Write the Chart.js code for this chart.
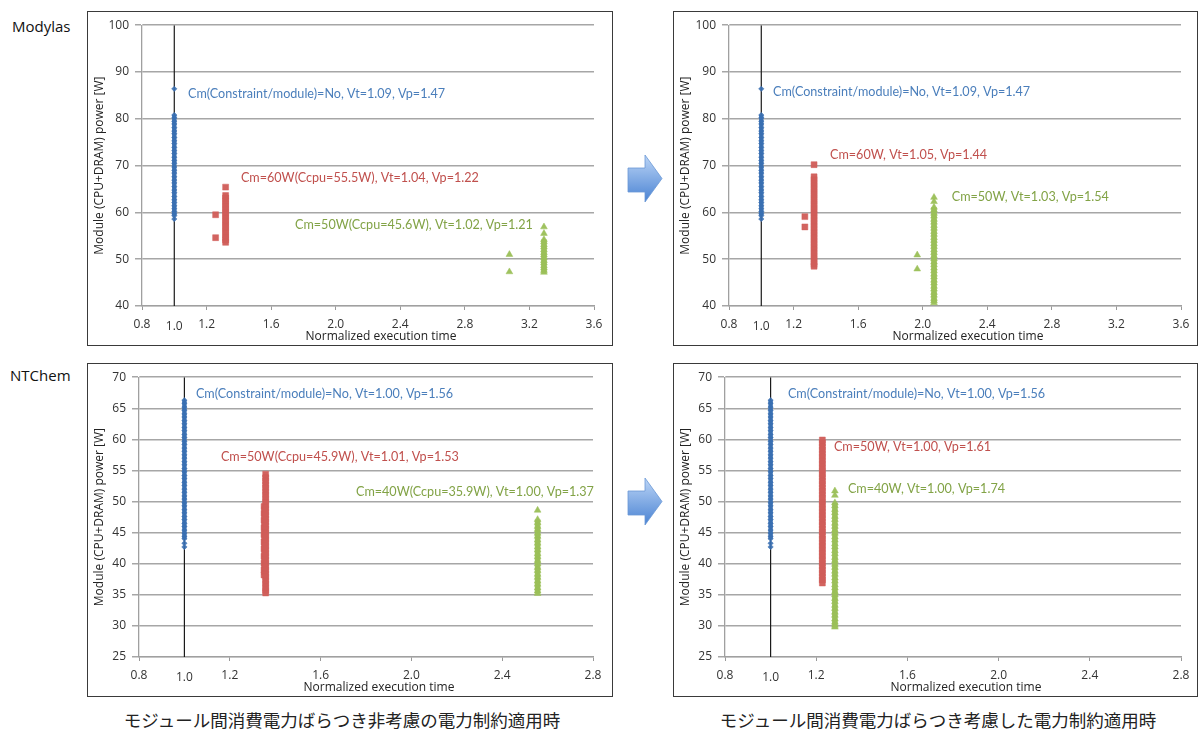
<!DOCTYPE html>
<html>
<head>
<meta charset="utf-8">
<script src="https://cdn.jsdelivr.net/npm/chart.js@4.4.0/dist/chart.umd.min.js"></script>
<style>
  body { margin: 0; width: 1203px; height: 730px; position: relative; overflow: hidden; background: #fff; font-family: "Open Sans", sans-serif; }
  .box { position: absolute; border: 1px solid #3a3a3a; }
  .box canvas { display: block; }
  .name { position: absolute; font-size: 15px; line-height: 18px; color: #111; }
  .caption { position: absolute; top: 709px; transform: translateX(-50%); white-space: nowrap; font-family: "Noto Sans CJK JP", sans-serif; font-size: 17.5px; line-height: 22px; color: #222; }
  .arrow { position: absolute; }
</style>
</head>
<body>
<div class="name" style="left:12px;top:17px">Modylas</div>
<div class="name" style="left:10px;top:366px">NTChem</div>

<div class="box" style="left:87px;top:11px;width:524px;height:333px"><canvas id="modylas-before" width="524" height="333"></canvas></div>
<div class="box" style="left:673px;top:11px;width:523px;height:333px"><canvas id="modylas-after" width="523" height="333"></canvas></div>
<div class="box" style="left:87px;top:363px;width:524px;height:332px"><canvas id="ntchem-before" width="524" height="332"></canvas></div>
<div class="box" style="left:673px;top:363px;width:523px;height:332px"><canvas id="ntchem-after" width="523" height="332"></canvas></div>

<svg class="arrow" style="left:626px;top:153px" width="40" height="52" viewBox="0 0 40 52">
  <defs><linearGradient id="arrowFill1" x1="0" y1="0" x2="0" y2="1"><stop offset="0" stop-color="#bcd5f6"/><stop offset="1" stop-color="#4a83d3"/></linearGradient></defs>
  <path d="M2 15 H19 V2 L36 25.5 L19 49 V39 H2 Z" fill="url(#arrowFill1)" stroke="#6a98d6" stroke-width="0.8"/>
</svg>
<svg class="arrow" style="left:626px;top:476px" width="40" height="52" viewBox="0 0 40 52">
  <defs><linearGradient id="arrowFill2" x1="0" y1="0" x2="0" y2="1"><stop offset="0" stop-color="#bcd5f6"/><stop offset="1" stop-color="#4a83d3"/></linearGradient></defs>
  <path d="M2 15 H19 V2 L36 25.5 L19 49 V39 H2 Z" fill="url(#arrowFill2)" stroke="#6a98d6" stroke-width="0.8"/>
</svg>

<div class="caption" style="left:342px">モジュール間消費電力ばらつき非考慮の電力制約適用時</div>
<div class="caption" style="left:938px">モジュール間消費電力ばらつき考慮した電力制約適用時</div>

<script>
Chart.defaults.font.family = "'Open Sans', sans-serif";

// axes
const modylasXRange = [0.8, 3.6];
const modylasYRange = [40, 100];
const ntchemXRange = [0.8, 2.8];
const ntchemYRange = [25, 70];
const xTickStep = 0.4;
const modylasYStep = 10;
const ntchemYStep = 5;
const baselineTime = 1.0;

// Modylas: no constraint (same run shown in both panels)
const modylasNoCapTime = 1.0;
const modylasNoCapPower = [80.8, 80.2, 79.5, 78.9, 78.1, 77.4, 76.8, 76.0, 75.3, 74.7, 73.9, 73.2, 72.6, 71.8, 71.1, 70.5, 69.7, 69.0, 68.4, 67.6, 66.9, 66.3, 65.5, 64.8, 64.2, 63.4, 62.7, 62.1, 61.4, 60.8, 60.2, 59.7, 59.3];
const modylasNoCapOutliers = [[1.0, 86.4], [1.0, 58.6]];

// Modylas: constraint without variation awareness
const modylasBefore60Time = 1.318;
const modylasBefore60Power = [63.6, 63.1, 62.4, 61.8, 61.1, 60.5, 59.8, 59.2, 58.5, 57.9, 57.2, 56.6, 55.9, 55.3, 54.6, 54.1, 53.6];
const modylasBefore60Outliers = [[1.318, 65.4], [1.256, 59.5], [1.256, 54.6]];
const modylasBefore50Time = 3.29;
const modylasBefore50Power = [54.2, 53.7, 53.1, 52.6, 52.0, 51.4, 50.9, 50.3, 49.7, 49.2, 48.6, 48.1, 47.6, 47.2];
const modylasBefore50Outliers = [[3.29, 56.9], [3.29, 55.5], [3.076, 51.0], [3.076, 47.3]];

// Modylas: variation-aware constraint
const modylasAfter60Time = 1.327;
const modylasAfter60Power = [67.6, 67.0, 66.3, 65.7, 65.0, 64.4, 63.7, 63.1, 62.4, 61.8, 61.1, 60.5, 59.8, 59.2, 58.5, 57.9, 57.2, 56.6, 55.9, 55.3, 54.6, 54.0, 53.3, 52.7, 52.0, 51.4, 50.7, 50.1, 49.4, 48.9, 48.5];
const modylasAfter60Outliers = [[1.327, 70.2], [1.27, 59.1], [1.27, 56.9]];
const modylasAfter50Time = 2.07;
const modylasAfter50Power = [61.1, 60.5, 59.8, 59.2, 58.5, 57.9, 57.2, 56.6, 55.9, 55.3, 54.6, 54.0, 53.3, 52.7, 52.0, 51.4, 50.7, 50.1, 49.4, 48.8, 48.1, 47.5, 46.8, 46.2, 45.5, 44.9, 44.2, 43.6, 42.9, 42.3, 41.6, 41.1, 40.7];
const modylasAfter50Outliers = [[2.07, 63.2], [2.07, 62.3], [1.966, 50.9], [1.966, 47.9]];

// NTChem: no constraint (same run shown in both panels)
const ntchemNoCapTime = 1.0;
const ntchemNoCapPower = [66.3, 65.8, 65.2, 64.7, 64.1, 63.6, 63.0, 62.5, 61.9, 61.4, 60.8, 60.3, 59.7, 59.2, 58.6, 58.1, 57.5, 57.0, 56.4, 55.9, 55.3, 54.8, 54.2, 53.7, 53.1, 52.6, 52.0, 51.5, 50.9, 50.4, 49.8, 49.3, 48.7, 48.2, 47.6, 47.1, 46.5, 46.0, 45.4, 44.9, 44.4, 44.0];
const ntchemNoCapOutliers = [[1.0, 43.3], [1.0, 42.7]];

// NTChem: constraint without variation awareness
const ntchemBefore50Time = 1.358;
const ntchemBefore50Power = [54.4, 53.8, 53.3, 52.7, 52.2, 51.6, 51.1, 50.5, 50.0, 49.4, 48.9, 48.3, 47.8, 47.2, 46.7, 46.1, 45.6, 45.0, 44.5, 43.9, 43.4, 42.8, 42.3, 41.7, 41.2, 40.6, 40.1, 39.5, 39.0, 38.4, 37.9, 37.3, 36.8, 36.2, 35.7, 35.3];
const ntchemBefore50LeftTime = 1.351;
const ntchemBefore50LeftPower = [49.2, 48.1, 47.0, 45.8, 44.7, 43.5, 42.4, 41.2, 40.1, 39.0, 38.2];
const ntchemBefore40Time = 2.556;
const ntchemBefore40Power = [47.1, 46.6, 46.0, 45.5, 44.9, 44.4, 43.8, 43.3, 42.7, 42.2, 41.6, 41.1, 40.5, 40.0, 39.4, 38.9, 38.3, 37.8, 37.2, 36.7, 36.1, 35.6, 35.2];
const ntchemBefore40Outliers = [[2.556, 48.6]];

// NTChem: variation-aware constraint
const ntchemAfter50Time = 1.227;
const ntchemAfter50Power = [59.9, 59.4, 58.8, 58.3, 57.7, 57.2, 56.6, 56.1, 55.5, 55.0, 54.4, 53.9, 53.3, 52.8, 52.2, 51.7, 51.1, 50.6, 50.0, 49.5, 48.9, 48.4, 47.8, 47.3, 46.7, 46.2, 45.6, 45.1, 44.5, 44.0, 43.4, 42.9, 42.3, 41.8, 41.2, 40.7, 40.1, 39.6, 39.0, 38.5, 37.9, 37.4, 36.9];
const ntchemAfter40Time = 1.282;
const ntchemAfter40Power = [49.8, 49.3, 48.7, 48.2, 47.6, 47.1, 46.5, 46.0, 45.4, 44.9, 44.3, 43.8, 43.2, 42.7, 42.1, 41.6, 41.0, 40.5, 39.9, 39.4, 38.8, 38.3, 37.7, 37.2, 36.6, 36.1, 35.5, 35.0, 34.4, 33.9, 33.3, 32.8, 32.2, 31.7, 31.1, 30.6, 30.1, 29.8];
const ntchemAfter40Outliers = [[1.282, 51.7], [1.282, 51.0]];

function strip(time, powers) {
  return powers.map((p) => ({ x: time, y: p }));
}
function pairs(list) {
  return list.map(([t, p]) => ({ x: t, y: p }));
}

const seriesStyle = {
  blue: { pointStyle: "rectRot", pointRadius: 2.7, stripWidth: 4.5, color: "rgba(58,112,178,0.92)" },
  red: { pointStyle: "rect", pointRadius: 4.2, stripWidth: 5.6, color: "rgba(208,94,90,0.96)" },
  green: { pointStyle: "triangle", pointRadius: 3.9, stripWidth: 5.6, color: "rgba(155,192,88,0.96)" },
};
const noteColor = { blue: "#4a7ebb", red: "#c0504d", green: "#82a346" };

const notesPlugin = {
  id: "notes",
  afterDatasetsDraw(chart, args, opts) {
    const { ctx, chartArea } = chart;
    const x = chart.scales.x;
    const y = chart.scales.y;
    ctx.save();
    ctx.textBaseline = "middle";
    ctx.font = "12.6px Lato";
    opts.items.forEach((n) => {
      ctx.fillStyle = noteColor[n.color];
      ctx.fillText(n.text, x.getPixelForValue(n.x), y.getPixelForValue(n.y));
    });
    ctx.font = "12px 'Open Sans'";
    ctx.fillStyle = "#333";
    ctx.textAlign = "center";
    ctx.fillText("1.0", x.getPixelForValue(baselineTime), chartArea.bottom + 21);
    ctx.fillStyle = "#222";
    ctx.fillText("Normalized execution time", (chartArea.left + chartArea.right) / 2 + 13, chartArea.bottom + 31);
    ctx.restore();
  },
};

function makeChart(id, p) {
  let datasets = [];
  p.series.forEach((s) => {
    let st = seriesStyle[s.color];
    let base = {
      pointStyle: st.pointStyle,
      pointRadius: st.pointRadius,
      backgroundColor: st.color,
      borderColor: st.color,
      pointBorderWidth: 0.5,
      order: 1,
    };
    (s.strips || []).forEach((d) => {
      datasets.push(Object.assign({}, base, { data: d, showLine: true, borderWidth: st.stripWidth }));
    });
    if (s.points) datasets.push(Object.assign({}, base, { data: s.points }));
  });
  datasets.push({
    data: [{ x: baselineTime, y: p.yRange[0] }, { x: baselineTime, y: p.yRange[1] }],
    showLine: true,
    borderColor: "#1a1a1a",
    borderWidth: 1.2,
    pointRadius: 0,
    order: 10,
  });

  return new Chart(id, {
    type: "scatter",
    data: { datasets: datasets },
    options: {
      responsive: false,
      animation: false,
      layout: { padding: { left: 0, right: p.padRight, top: p.padTop, bottom: 0 } },
      plugins: {
        legend: { display: false },
        tooltip: { enabled: false },
        notes: { items: p.notes },
      },
      scales: {
        x: {
          type: "linear",
          min: p.xRange[0],
          max: p.xRange[1],
          afterFit: (s) => { s.height = p.xHeight; },
          ticks: {
            stepSize: xTickStep,
            callback: (v) => v.toFixed(1),
            color: "#333",
            font: { size: 12 },
            padding: 7,
            maxRotation: 0,
            autoSkip: false,
          },
          grid: { drawOnChartArea: false, tickLength: 4, color: "#999" },
          border: { color: "#a0a0a0", width: 1.3 },
        },
        y: {
          min: p.yRange[0],
          max: p.yRange[1],
          afterFit: (s) => { s.width = p.yWidth; },
          ticks: { stepSize: p.yStep, color: "#333", font: { size: 12 }, padding: 6 },
          grid: { color: "#a6a6a6", lineWidth: 1.5, tickLength: 7 },
          border: { color: "#a0a0a0", width: 1.3 },
          title: {
            display: true,
            text: "Module (CPU+DRAM) power [W]",
            color: "#222",
            font: { size: 12 },
            padding: { top: 4 },
          },
        },
      },
    },
    plugins: [notesPlugin],
  });
}

makeChart("modylas-before", {
  xRange: modylasXRange, yRange: modylasYRange, yStep: modylasYStep,
  yWidth: 54, xHeight: 39, padRight: 18, padTop: 7,
  series: [
    { color: "blue", strips: [strip(modylasNoCapTime, modylasNoCapPower)], points: pairs(modylasNoCapOutliers) },
    { color: "red", strips: [strip(modylasBefore60Time, modylasBefore60Power)], points: pairs(modylasBefore60Outliers) },
    { color: "green", strips: [strip(modylasBefore50Time, modylasBefore50Power)], points: pairs(modylasBefore50Outliers) },
  ],
  notes: [
    { color: "blue", x: 1.085, y: 85.4, text: "Cm(Constraint/module)=No, Vt=1.09, Vp=1.47" },
    { color: "red", x: 1.413, y: 67.4, text: "Cm=60W(Ccpu=55.5W), Vt=1.04, Vp=1.22" },
    { color: "green", x: 1.748, y: 57.4, text: "Cm=50W(Ccpu=45.6W), Vt=1.02, Vp=1.21" },
  ],
});

makeChart("modylas-after", {
  xRange: modylasXRange, yRange: modylasYRange, yStep: modylasYStep,
  yWidth: 55, xHeight: 39, padRight: 16, padTop: 7,
  series: [
    { color: "blue", strips: [strip(modylasNoCapTime, modylasNoCapPower)], points: pairs(modylasNoCapOutliers) },
    { color: "red", strips: [strip(modylasAfter60Time, modylasAfter60Power)], points: pairs(modylasAfter60Outliers) },
    { color: "green", strips: [strip(modylasAfter50Time, modylasAfter50Power)], points: pairs(modylasAfter50Outliers) },
  ],
  notes: [
    { color: "blue", x: 1.073, y: 85.8, text: "Cm(Constraint/module)=No, Vt=1.09, Vp=1.47" },
    { color: "red", x: 1.426, y: 72.2, text: "Cm=60W, Vt=1.05, Vp=1.44" },
    { color: "green", x: 2.18, y: 63.4, text: "Cm=50W, Vt=1.03, Vp=1.54" },
  ],
});

makeChart("ntchem-before", {
  xRange: ntchemXRange, yRange: ntchemYRange, yStep: ntchemYStep,
  yWidth: 51, xHeight: 39, padRight: 19, padTop: 8,
  series: [
    { color: "blue", strips: [strip(ntchemNoCapTime, ntchemNoCapPower)], points: pairs(ntchemNoCapOutliers) },
    { color: "red", strips: [strip(ntchemBefore50Time, ntchemBefore50Power), strip(ntchemBefore50LeftTime, ntchemBefore50LeftPower)] },
    { color: "green", strips: [strip(ntchemBefore40Time, ntchemBefore40Power)], points: pairs(ntchemBefore40Outliers) },
  ],
  notes: [
    { color: "blue", x: 1.051, y: 67.3, text: "Cm(Constraint/module)=No, Vt=1.00, Vp=1.56" },
    { color: "red", x: 1.161, y: 57.2, text: "Cm=50W(Ccpu=45.9W), Vt=1.01, Vp=1.53" },
    { color: "green", x: 1.756, y: 51.5, text: "Cm=40W(Ccpu=35.9W), Vt=1.00, Vp=1.37" },
  ],
});

makeChart("ntchem-after", {
  xRange: ntchemXRange, yRange: ntchemYRange, yStep: ntchemYStep,
  yWidth: 51, xHeight: 39, padRight: 16, padTop: 8,
  series: [
    { color: "blue", strips: [strip(ntchemNoCapTime, ntchemNoCapPower)], points: pairs(ntchemNoCapOutliers) },
    { color: "red", strips: [strip(ntchemAfter50Time, ntchemAfter50Power)] },
    { color: "green", strips: [strip(ntchemAfter40Time, ntchemAfter40Power)], points: pairs(ntchemAfter40Outliers) },
  ],
  notes: [
    { color: "blue", x: 1.076, y: 67.3, text: "Cm(Constraint/module)=No, Vt=1.00, Vp=1.56" },
    { color: "red", x: 1.278, y: 58.8, text: "Cm=50W, Vt=1.00, Vp=1.61" },
    { color: "green", x: 1.339, y: 52.0, text: "Cm=40W, Vt=1.00, Vp=1.74" },
  ],
});
</script>
</body>
</html>
